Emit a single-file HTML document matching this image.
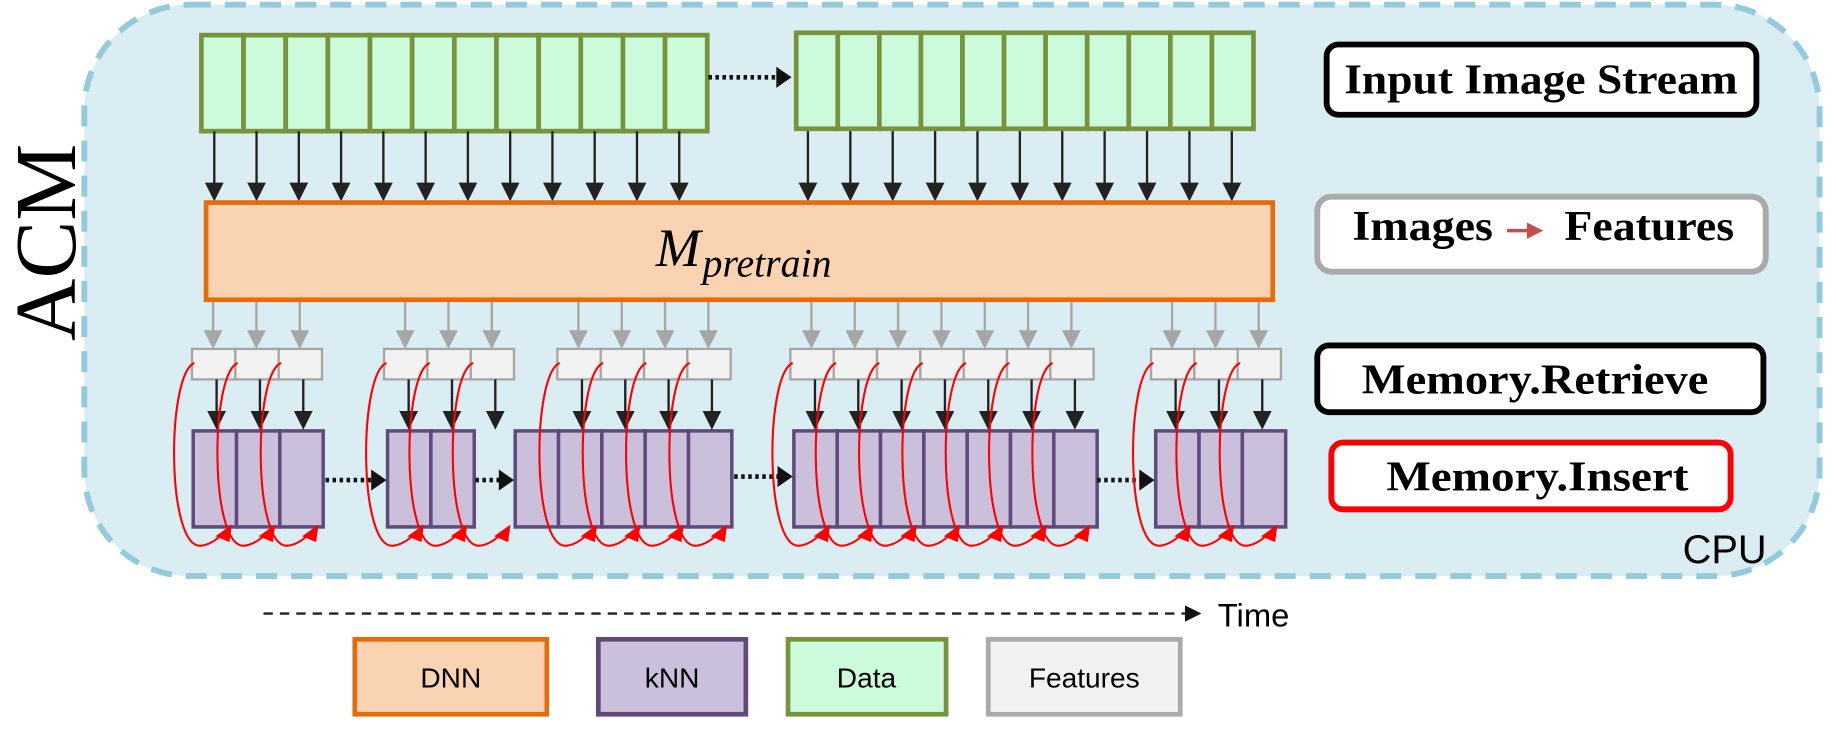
<!DOCTYPE html>
<html><head><meta charset="utf-8"><style>
html,body{margin:0;padding:0;background:#fff;}
svg{display:block;}
</style></head><body>
<svg id="s" width="1836" height="731" viewBox="0 0 1568 624.3" preserveAspectRatio="none" xmlns="http://www.w3.org/2000/svg">
<rect x="72" y="4" width="1482" height="488" rx="90" fill="#daedf3" stroke="#93cbdc" stroke-width="5" stroke-dasharray="18,12"/>
<text x="0" y="0" transform="translate(64,207) rotate(-90)" text-anchor="middle" font-family="Liberation Serif, serif" font-size="74" fill="#000">ACM</text>
<g id="g"></g>
<rect x="176" y="173" width="911" height="83" fill="#fad3b3" stroke="#e46c0a" stroke-width="4"/>
<text x="560" y="227" font-family="Liberation Serif, serif" font-style="italic" font-size="46">M</text>
<text x="600" y="236" font-family="Liberation Serif, serif" font-style="italic" font-size="34">pretrain</text>

<rect x="1133" y="38" width="367" height="60" rx="10" fill="#fff" stroke="#000" stroke-width="5"/>
<text x="1316" y="80" text-anchor="middle" font-family="Liberation Serif, serif" font-weight="bold" font-size="36" textLength="336" lengthAdjust="spacingAndGlyphs">Input Image Stream</text>
<rect x="1125" y="168" width="383" height="64" rx="12" fill="#fff" stroke="#aaa" stroke-width="5"/>
<text x="1155" y="205" font-family="Liberation Serif, serif" font-weight="bold" font-size="36" textLength="120" lengthAdjust="spacingAndGlyphs">Images</text>
<line x1="1287" y1="197" x2="1306" y2="197" stroke="#c0504d" stroke-width="3"/>
<path d="M1304,190 L1318,197 L1304,204z" fill="#c0504d"/>
<text x="1336" y="205" font-family="Liberation Serif, serif" font-weight="bold" font-size="36" textLength="145" lengthAdjust="spacingAndGlyphs">Features</text>
<rect x="1125" y="295" width="381" height="57" rx="10" fill="#fff" stroke="#000" stroke-width="5"/>
<text x="1311" y="336" text-anchor="middle" font-family="Liberation Serif, serif" font-weight="bold" font-size="36" textLength="296" lengthAdjust="spacingAndGlyphs">Memory.Retrieve</text>
<rect x="1137" y="378" width="341" height="57" rx="10" fill="#fff" stroke="#f00" stroke-width="5"/>
<text x="1313" y="419" text-anchor="middle" font-family="Liberation Serif, serif" font-weight="bold" font-size="36" textLength="258" lengthAdjust="spacingAndGlyphs">Memory.Insert</text>
<text x="1437" y="481" font-family="Liberation Sans, sans-serif" font-size="34">CPU</text>

<line x1="225" y1="524" x2="1015" y2="524" stroke="#222" stroke-width="2" stroke-dasharray="8,6"/>
<path d="M1012,517 L1026,524 L1012,531z" fill="#111"/>
<text x="1040" y="535" font-family="Liberation Sans, sans-serif" font-size="28">Time</text>

<rect x="303" y="546" width="164" height="64" fill="#fad3b3" stroke="#e46c0a" stroke-width="4"/>
<text x="385" y="587" text-anchor="middle" font-family="Liberation Sans, sans-serif" font-size="24">DNN</text>
<rect x="511" y="546" width="126" height="64" fill="#cbc0dc" stroke="#604a7b" stroke-width="4"/>
<text x="574" y="587" text-anchor="middle" font-family="Liberation Sans, sans-serif" font-size="24">kNN</text>
<rect x="673" y="546" width="135" height="64" fill="#ccfbdc" stroke="#77933c" stroke-width="4"/>
<text x="740" y="587" text-anchor="middle" font-family="Liberation Sans, sans-serif" font-size="24">Data</text>
<rect x="844" y="546" width="164" height="64" fill="#f2f2f2" stroke="#aaa" stroke-width="4"/>
<text x="926" y="587" text-anchor="middle" font-family="Liberation Sans, sans-serif" font-size="24">Features</text>
</svg>
<script>
var g=document.getElementById('g'),h='';
function R(x,y,w,hh,f,s,sw){h+='<rect x="'+x+'" y="'+y+'" width="'+w+'" height="'+hh+'" fill="'+f+'" stroke="'+s+'" stroke-width="'+sw+'"/>';}
function A(x,y1,y2,c,hw){h+='<line x1="'+x+'" y1="'+y1+'" x2="'+x+'" y2="'+(y2-12)+'" stroke="'+c+'" stroke-width="2"/><path d="M'+(x-hw)+','+(y2-16)+' L'+(x+hw)+','+(y2-16)+' L'+x+','+y2+'z" fill="'+c+'"/>';}
function D(x1,x2,y){h+='<line x1="'+x1+'" y1="'+y+'" x2="'+(x2-12)+'" y2="'+y+'" stroke="#111" stroke-width="4" stroke-dasharray="3,3"/><path d="M'+(x2-13)+','+(y-9)+' L'+x2+','+y+' L'+(x2-13)+','+(y+9)+'z" fill="#111"/>';}
var i;
for(i=0;i<12;i++){R(172+i*36,30,36,82,'#ccfbdc','#77933c',4);A(183+i*36.1,112,172,'#222',8);}
for(i=0;i<11;i++){R(680+i*35.5,28,35.5,82,'#ccfbdc','#77933c',4);A(690+i*36.2,112,172,'#222',8);}
D(605,676,66);
var G=[[164,3],[328,3],[476,4],[675,7],[983,3]];
var P=[[165,3],[331,2],[440,5],[678,7],[987,3]];
G.forEach(function(q){for(var k=0;k<q[1];k++){var x=q[0]+k*37;A(x+18,258,298,'#a6a6a6',8);R(x,298,37,26,'#f2f2f2','#a6a6a6',2);}});
P.forEach(function(q){for(var k=0;k<q[1];k++){R(q[0]+k*37,368,37,82,'#cbc0dc','#604a7b',3);}});
G.forEach(function(q){for(var k=0;k<q[1];k++){var x=q[0]+k*37;A(x+21,324,367,'#222',8);}});
D(278,330,410);D(406,439,410);D(627,677,407);D(937,986,410);
G.forEach(function(q){for(var k=0;k<q[1];k++){var x=q[0]+k*37;
h+='<path d="M'+(x+2)+',310 C'+(x-22)+',320 '+(x-22)+',470 '+(x+8)+',466 C'+(x+16)+',465 '+(x+22)+',460 '+(x+26)+',456" fill="none" stroke="#f00" stroke-width="1.8"/>';
h+='<path d="M'+(x+20)+',458 L'+(x+34)+',448 L'+(x+32)+',463z" fill="#f00"/>';}});
g.innerHTML=h;
</script>
</body></html>
